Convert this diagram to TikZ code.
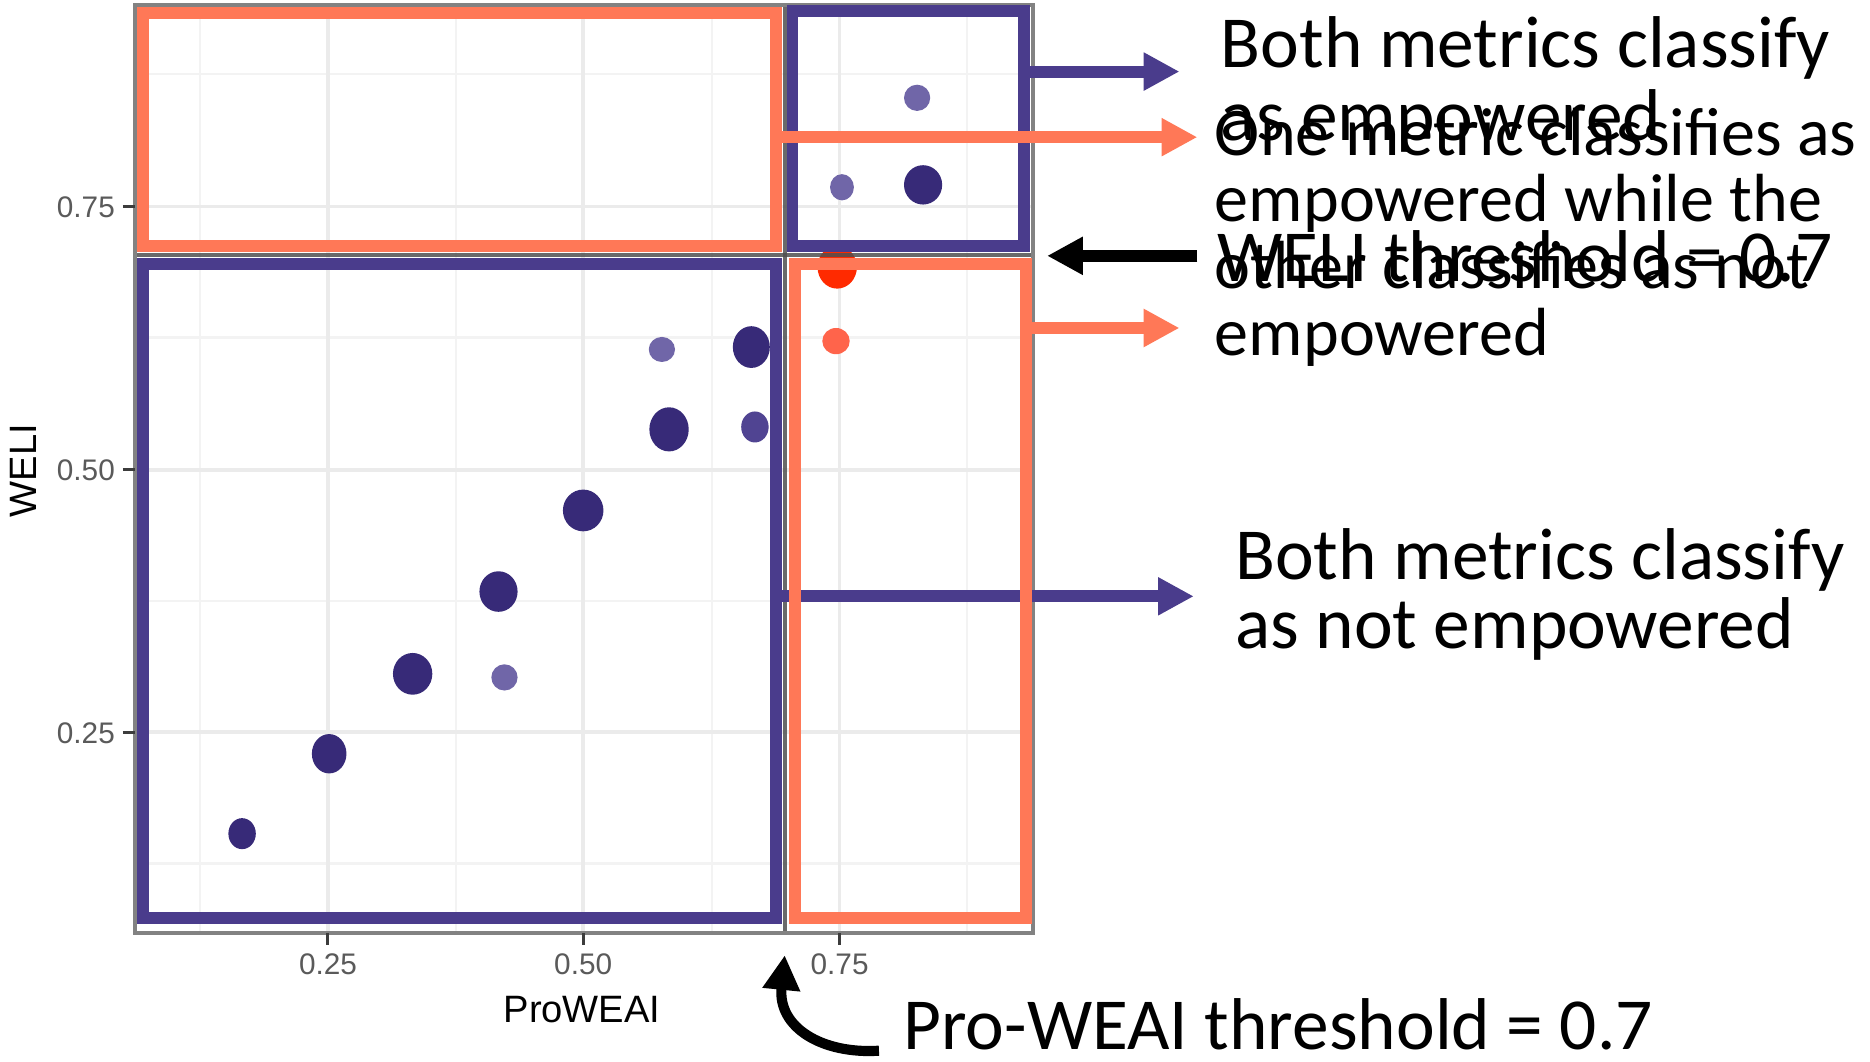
\documentclass[tikz,border=0pt]{standalone}
\usepackage{fontspec}
\setmainfont{Carlito}
\newfontfamily\axfont{Liberation Sans}
\usetikzlibrary{arrows.meta}
\definecolor{pur}{RGB}{74,60,140}
\definecolor{org}{RGB}{255,120,87}
\definecolor{dotd}{RGB}{55,42,120}
\definecolor{dotl}{RGB}{112,102,168}
\definecolor{dotm}{RGB}{80,68,146}
\definecolor{dotr}{RGB}{255,42,0}
\definecolor{dotrl}{RGB}{255,100,75}
\definecolor{gridmaj}{RGB}{235,235,235}
\definecolor{gridmin}{RGB}{243,243,243}
\definecolor{panelc}{RGB}{130,130,130}
\definecolor{tickc}{RGB}{60,60,60}
\definecolor{ticklab}{RGB}{90,90,90}
\definecolor{thrc}{RGB}{80,80,80}
\begin{document}
\begin{tikzpicture}[x=0.1mm,y=-0.1mm,
  ann/.style={inner sep=0pt, anchor=base west, font=\fontsize{17.5pt}{20pt}\selectfont},
  annsm/.style={inner sep=0pt, anchor=base west, font=\fontsize{16.25pt}{19pt}\selectfont},
  ticklabel/.style={inner sep=0pt, text=ticklab, font=\axfont\fontsize{7.1pt}{8pt}\selectfont},
  axtitle/.style={inner sep=0pt, anchor=base, font=\axfont\fontsize{9.1pt}{10pt}\selectfont},
  frame/.style={line width=1mm},
  arr/.style={line width=1mm, -{Triangle[length=3mm,width=3mm]}},
  majgrid/.style={gridmaj, line width=0.3mm},
  mingrid/.style={gridmin, line width=0.18mm}
]
\useasboundingbox (0,0) rectangle (1568,890);
\fill[white] (0,0) rectangle (1568,890);

% grid
\foreach \gx in {168,382,597,811} \draw[mingrid] (\gx,5.5) -- (\gx,781);
\foreach \gy in {62,283,504,724} \draw[mingrid] (114.5,\gy) -- (864.5,\gy);
\foreach \gx in {275,489,704} \draw[majgrid] (\gx,5.5) -- (\gx,781);
\foreach \gy in {173,394,614} \draw[majgrid] (114.5,\gy) -- (864.5,\gy);

% points
\fill[dotd] (203,699) ellipse [x radius=1.15mm, y radius=1.3mm];
\fill[dotd] (276,632) ellipse [x radius=1.45mm, y radius=1.65mm];
\fill[dotd] (346,565) ellipse [x radius=1.65mm, y radius=1.75mm];
\fill[dotd] (418,496) ellipse [x radius=1.6mm, y radius=1.7mm];
\fill[dotl] (423,568) ellipse [x radius=1.1mm, y radius=1.1mm];
\fill[dotd] (489,428) ellipse [x radius=1.7mm, y radius=1.75mm];
\fill[dotd] (561,360) ellipse [x radius=1.65mm, y radius=1.85mm];
\fill[dotl] (555,293) ellipse [x radius=1.1mm, y radius=1.05mm];
\fill[dotd] (630,291) ellipse [x radius=1.55mm, y radius=1.75mm];
\fill[dotm] (633,358) ellipse [x radius=1.15mm, y radius=1.3mm];
\fill[dotl] (706,157) ellipse [x radius=1.0mm, y radius=1.1mm];
\fill[dotd] (774,155) ellipse [x radius=1.6mm, y radius=1.65mm];
\fill[dotl] (769,82) ellipse [x radius=1.1mm, y radius=1.1mm];
\fill[dotr] (702,224) ellipse [x radius=1.65mm, y radius=1.8mm];
\fill[dotrl] (701,286) ellipse [x radius=1.15mm, y radius=1.1mm];

% threshold lines
\draw[thrc, line width=0.32mm, opacity=0.85] (658,4) -- (658,782.5);
\draw[thrc, line width=0.32mm, opacity=0.85] (113,214) -- (866,214);

% panel border and ticks
\draw[panelc, line width=0.3mm] (113,4) rectangle (866,782.5);
\foreach \ty in {173,394,614} \draw[tickc, line width=0.25mm] (103,\ty) -- (113,\ty);
\foreach \tx in {275,489,704} \draw[tickc, line width=0.25mm] (\tx,782.5) -- (\tx,792);

% tick labels
\node[ticklabel, anchor=base east] (yl75) at (97,182) {0.75};
\node[ticklabel, anchor=base east] (yl50) at (97,403) {0.50};
\node[ticklabel, anchor=base east] (yl25) at (97,623) {0.25};
\node[ticklabel, anchor=base] (xl25) at (275,817) {0.25};
\node[ticklabel, anchor=base] (xl50) at (489,817) {0.50};
\node[ticklabel, anchor=base] (xl75) at (704,817) {0.75};
\node[axtitle] (xtitle) at (488,857) {ProWEAI};
\node[axtitle, rotate=90] (ytitle) at (31,394.5) {WELI};

% purple frames
\draw[pur, frame] (664.5,9) rectangle (859,206);
\draw[pur, frame] (120,221) rectangle (650.5,770);

% arrow across lower right frame
\coordinate (a5s) at (651,500);
\coordinate (a5e) at (1001,500);
\draw[pur, arr] (a5s) -- (a5e);

% orange frames
\draw[org, frame] (120,11) rectangle (650.5,206);
\draw[org, frame] (666.5,221) rectangle (860,770);

% other arrows
\coordinate (a1s) at (864,60);
\coordinate (a1e) at (989,60);
\draw[pur, arr] (a1s) -- (a1e);
\coordinate (a2s) at (651,115);
\coordinate (a2e) at (1004,115);
\draw[org, arr] (a2s) -- (a2e);
\coordinate (a3s) at (1004,214.5);
\coordinate (a3e) at (878,214.5);
\draw[black, arr] (a3s) -- (a3e);
\coordinate (a4s) at (865,275);
\coordinate (a4e) at (989,275);
\draw[org, arr] (a4s) -- (a4e);
\coordinate (a6s) at (737,881);
\coordinate (a6e) at (658,801);
\draw[black, line width=0.85mm, -{Triangle[length=2.9mm,width=3mm]}] (a6s) .. controls (690,884) and (652,862) .. (a6e);

% annotation texts
\node[ann] (t1a) at (1023,57) {Both metrics classify};
\node[ann] (t1b) at (1023,118) {as empowered};
\node[annsm] (t2a) at (1018,130) {One metric classifies as};
\node[annsm] (t2b) at (1018,186) {empowered while the};
\node[annsm] (t2c) at (1018,242) {other classifies as not};
\node[annsm] (t2d) at (1018,298) {empowered};
\node[ann] (t3) at (1020,236) {WELI threshold = 0.7};
\node[ann] (t4a) at (1035,486) {Both metrics classify};
\node[ann] (t4b) at (1035,544) {as not empowered};
\node[ann] (t5) at (757,880) {Pro-WEAI threshold = 0.7};
\end{tikzpicture}
\end{document}
